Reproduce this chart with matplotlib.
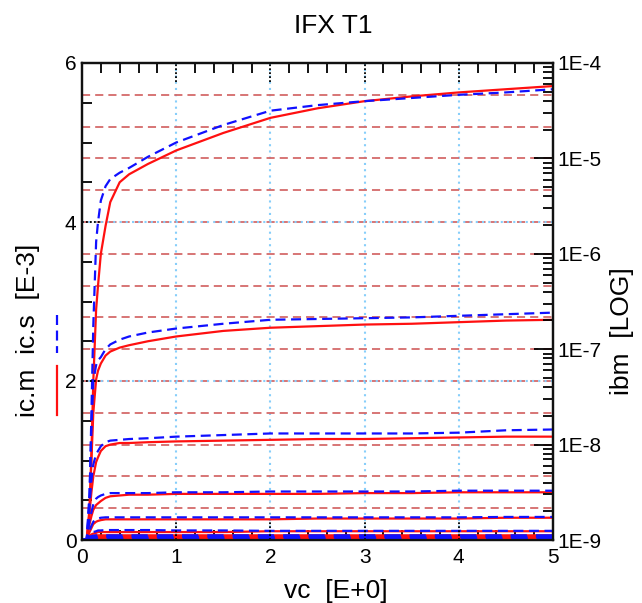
import numpy as np
import matplotlib
matplotlib.use('Agg')
import matplotlib.pyplot as plt
from matplotlib.lines import Line2D
from matplotlib.ticker import FixedLocator, MultipleLocator, LogLocator, NullFormatter

plt.rcParams['font.family'] = ['Liberation Sans', 'DejaVu Sans']

# vc sample points [V]
vc = [0, 0.05, 0.08, 0.1, 0.12, 0.15, 0.17, 0.2, 0.25, 0.3, 0.4, 0.5, 0.7,
      1.0, 1.5, 2.0, 2.5, 3.0, 3.5, 4.0, 4.5, 5.0]

# ic.m (measured, red solid) [mA], one list per base current step
icm_1 = [0, 0, 0.3, 1.1, 2.0, 2.9, 3.2, 3.6, 3.95, 4.25, 4.50, 4.60, 4.73,
         4.90, 5.12, 5.31, 5.43, 5.52, 5.58, 5.63, 5.67, 5.71]
icm_2 = [0, 0, 0.4, 1.0, 1.6, 2.02, 2.13, 2.22, 2.32, 2.37, 2.42, 2.45, 2.50,
         2.56, 2.63, 2.67, 2.69, 2.71, 2.72, 2.74, 2.76, 2.77]
icm_3 = [0, 0, 0.35, 0.6, 0.8, 0.98, 1.04, 1.12, 1.18, 1.20, 1.22, 1.22, 1.23,
         1.24, 1.25, 1.26, 1.27, 1.27, 1.28, 1.29, 1.30, 1.30]
icm_4 = [0, 0, 0.2, 0.3, 0.38, 0.44, 0.46, 0.49, 0.53, 0.55, 0.56, 0.57, 0.57,
         0.58, 0.58, 0.58, 0.58, 0.59, 0.59, 0.60, 0.60, 0.60]
icm_5 = [0, 0, 0.1, 0.15, 0.2, 0.23, 0.24, 0.25, 0.26, 0.26, 0.26, 0.26, 0.26,
         0.26, 0.26, 0.26, 0.27, 0.27, 0.27, 0.27, 0.28, 0.28]
icm_6 = [0, 0, 0.05, 0.07, 0.08, 0.09, 0.1, 0.1, 0.1, 0.1, 0.1, 0.1, 0.1,
         0.1, 0.1, 0.11, 0.11, 0.11, 0.11, 0.11, 0.11, 0.11]
icm_7 = [0, 0, 0.03, 0.04, 0.045, 0.05, 0.05, 0.05, 0.05, 0.05, 0.05, 0.05, 0.05,
         0.05, 0.05, 0.05, 0.05, 0.05, 0.05, 0.05, 0.05, 0.05]
icm_8 = [0, 0, 0.02, 0.025, 0.03, 0.03, 0.03, 0.03, 0.03, 0.03, 0.03, 0.03, 0.03,
         0.03, 0.03, 0.03, 0.03, 0.03, 0.03, 0.03, 0.03, 0.03]
icm_9 = [0, 0, 0.01, 0.01, 0.01, 0.01, 0.01, 0.01, 0.01, 0.01, 0.01, 0.01, 0.01,
         0.01, 0.01, 0.01, 0.01, 0.01, 0.01, 0.01, 0.01, 0.01]

# ic.s (simulated, blue dashed) [mA]
ics_1 = [0, 0, 0.5, 1.6, 2.7, 3.75, 4.0, 4.27, 4.45, 4.54, 4.62, 4.68, 4.82,
         5.0, 5.22, 5.40, 5.47, 5.52, 5.56, 5.60, 5.63, 5.67]
ics_2 = [0, 0, 0.6, 1.4, 2.0, 2.2, 2.26, 2.3, 2.40, 2.46, 2.52, 2.56, 2.61,
         2.66, 2.72, 2.77, 2.78, 2.79, 2.80, 2.82, 2.84, 2.86]
ics_3 = [0, 0, 0.45, 0.75, 0.95, 1.08, 1.12, 1.18, 1.23, 1.25, 1.26, 1.27, 1.28,
         1.30, 1.32, 1.34, 1.34, 1.34, 1.34, 1.35, 1.38, 1.39]
ics_4 = [0, 0, 0.25, 0.35, 0.45, 0.52, 0.54, 0.56, 0.58, 0.59, 0.59, 0.59, 0.59,
         0.60, 0.60, 0.61, 0.61, 0.61, 0.61, 0.62, 0.62, 0.62]
ics_5 = [0, 0, 0.12, 0.18, 0.23, 0.26, 0.27, 0.28, 0.285, 0.285, 0.285, 0.285, 0.285,
         0.285, 0.285, 0.285, 0.285, 0.285, 0.285, 0.285, 0.29, 0.29]
ics_6 = [0, 0, 0.06, 0.08, 0.1, 0.11, 0.12, 0.12, 0.125, 0.125, 0.125, 0.125, 0.125,
         0.12, 0.12, 0.115, 0.115, 0.115, 0.115, 0.115, 0.115, 0.115]
ics_7 = icm_7
ics_8 = icm_8
ics_9 = icm_9

icm_curves = [icm_1, icm_2, icm_3, icm_4, icm_5, icm_6, icm_7, icm_8, icm_9]
ics_curves = [ics_1, ics_2, ics_3, ics_4, ics_5, ics_6, ics_7, ics_8, ics_9]

ibm_ticks = [1e-9, 1e-8, 1e-7, 1e-6, 1e-5, 1e-4]
ibm_labels = ['1E-9', '1E-8', '1E-7', '1E-6', '1E-5', '1E-4']

W, H = 642, 603
fig = plt.figure(figsize=(W / 100, H / 100), dpi=100)
ax = fig.add_axes([82 / W, 1 - 540 / H, (553 - 82) / W, (540 - 63) / H])
ax.set_xlim(0, 5)
ax.set_ylim(0, 6)

# grid: blue dotted on left/x axis, red dashed for log axis (1/3 decade)
grid_blue = '#87cefa'
for x in [1, 2, 3, 4]:
    ax.axvline(x, color=grid_blue, ls=(0, (1, 2)), lw=1.5, zorder=1)
for y in np.arange(0.4, 5.9, 0.4):
    ax.axhline(y, color='#d46a6a', ls=(0, (4.5, 2.8)), lw=1.3, zorder=1)
for y in [2, 4]:
    ax.axhline(y, color=grid_blue, ls=(0, (1, 2)), lw=1.5, zorder=1)

for i, (m, s) in enumerate(zip(icm_curves, ics_curves)):
    lw = 1.6 if i < 6 else 2.6
    ax.plot(vc, m, color='#ff1010', lw=lw, zorder=3)
    ax.plot(vc, s, color='#1010ff', lw=lw, ls=(0, (4.5, 2.5)), zorder=4)

# ticks
ax.xaxis.set_major_locator(FixedLocator([0, 1, 2, 3, 4, 5]))
ax.xaxis.set_minor_locator(MultipleLocator(0.2))
ax.yaxis.set_major_locator(FixedLocator([0, 2, 4, 6]))
ax.yaxis.set_minor_locator(MultipleLocator(0.5))
ax.tick_params(axis='x', which='both', direction='in', top=True, bottom=True,
               labelsize=15, pad=6)
ax.tick_params(axis='y', which='both', direction='in', left=True, right=False,
               labelsize=15, pad=4)
ax.tick_params(which='major', length=0)
ax.tick_params(which='minor', length=7, width=1.3, color='black')

# dotted major ticks
for x in [1, 2, 3, 4]:
    ax.plot([x, x], [0, 0.04], transform=ax.get_xaxis_transform(), color='black',
            ls=(0, (1, 1.2)), lw=1.3, zorder=5, clip_on=False)
    ax.plot([x, x], [0.96, 1], transform=ax.get_xaxis_transform(), color='black',
            ls=(0, (1, 1.2)), lw=1.3, zorder=5, clip_on=False)
for y in [2, 4]:
    ax.plot([0, 0.04], [y, y], transform=ax.get_yaxis_transform(), color='black',
            ls=(0, (1, 1.2)), lw=1.3, zorder=5, clip_on=False)

ax2 = ax.twinx()
ax2.set_yscale('log')
ax2.set_ylim(1e-9, 1e-4)
ax2.yaxis.set_major_locator(FixedLocator(ibm_ticks))
ax2.set_yticklabels(ibm_labels)
ax2.yaxis.set_minor_locator(LogLocator(base=10, subs=np.arange(2, 10)))
ax2.yaxis.set_minor_formatter(NullFormatter())
ax2.tick_params(axis='y', which='both', direction='in', right=True, left=False,
                labelsize=15, pad=3, color='black')
ax2.tick_params(which='major', length=14, width=1.3)
ax2.tick_params(which='minor', length=7, width=1.3)

for a in (ax, ax2):
    for sp in a.spines.values():
        sp.set_linewidth(1.6)
        sp.set_color('#111111')

# labels
fig.text(333 / W, 1 - 33 / H, 'IFX T1', ha='center', va='baseline', fontsize=19)
fig.text(336 / W, 1 - 598 / H, 'vc  [E+0]', ha='center', va='baseline', fontsize=19)
fig.text(28 / W, 1 - 330 / H, 'ic.m  ic.s  [E-3]', rotation=90, ha='center',
         va='center', fontsize=19)
fig.text(622 / W, 1 - 331 / H, 'ibm  [LOG]', rotation=90, ha='center',
         va='center', fontsize=19)

fig.add_artist(Line2D([57 / W, 57 / W], [1 - 366 / H, 1 - 415 / H],
                      color='#ff1010', lw=1.6))
fig.add_artist(Line2D([57 / W, 57 / W], [1 - 315 / H, 1 - 353 / H],
                      color='#1010ff', lw=1.6, ls=(0, (4.5, 2.5))))

fig.savefig('out.png', dpi=100)
